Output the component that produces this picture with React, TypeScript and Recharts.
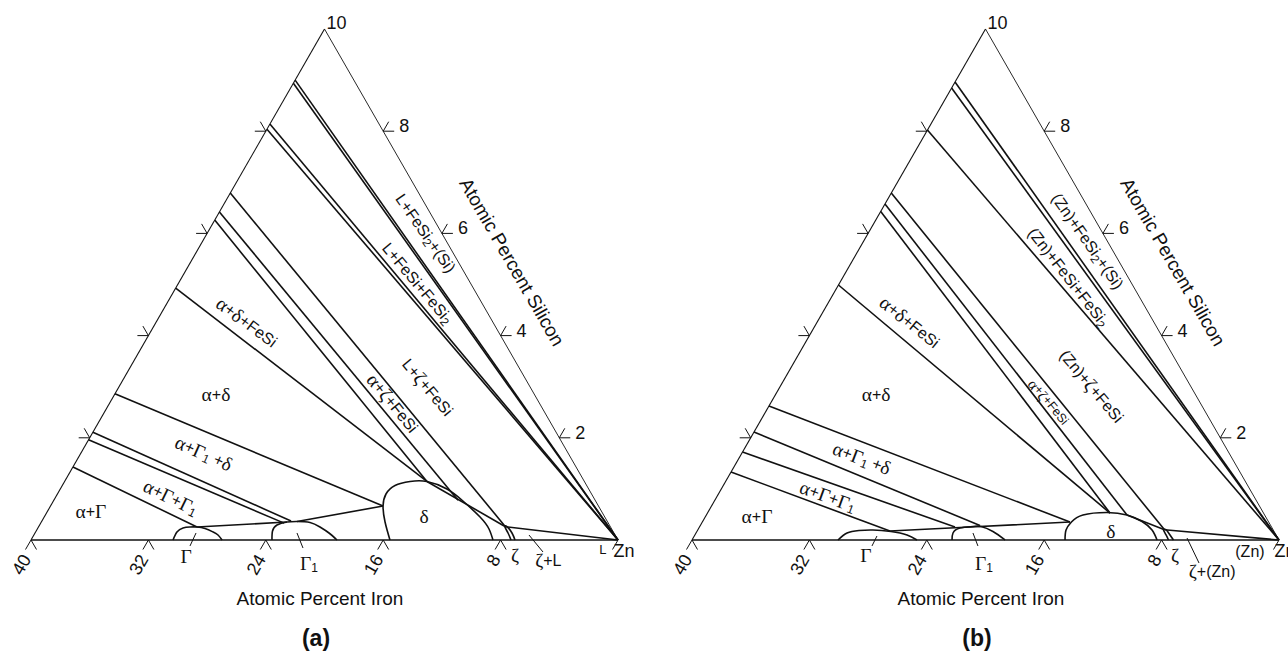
import { ComposedChart, Line, Scatter, XAxis, YAxis } from 'recharts'

type Pt = [number, number] // [at.% Fe, at.% Si]

interface PhaseLabel {
  text: string
  at: Pt
  rot?: number
  size?: number
}

const FE_MAX = 40
const SI_MAX = 10
const feTicks = [40, 32, 24, 16, 8]
const siTicks = [2, 4, 6, 8]

// ---------- (a) ----------
const aTieLines: Pt[][] = [
  [[4.0, 9.0], [0, 0]],
  [[4.24, 8.94], [0, 0]],
  [[7.44, 8.14], [0, 0]],
  [[7.84, 8.04], [0, 0]],
  [[12.84, 6.79], [7.15, 0.26]],
  [[14.32, 6.42], [9.34, 0.78]],
  [[14.96, 6.26], [10.73, 1.145]],
  [[20.28, 4.93], [10.73, 1.145]],
  [[28.56, 2.86], [14.68, 0.665]],
  [[31.56, 2.11], [21.54, 0.37]],
  [[32.16, 1.96], [22.09, 0.33]],
  [[34.28, 1.43], [28.18, 0.254]],
  [[28.18, 0.254], [21.85, 0.352]],
  [[21.15, 0.362], [14.68, 0.665]],
  [[10.73, 1.145], [7.15, 0.26]],
  [[7.15, 0.26], [0, 0]],
]
const aGamma: Pt[] = [[30.32, 0], [29.74, 0.157], [29.17, 0.235], [28.66, 0.254], [28.18, 0.254], [27.69, 0.225], [27.28, 0.157], [27.06, 0.098], [26.98, 0]]
const aGamma1: Pt[] = [[23.58, 0], [23.19, 0.176], [22.65, 0.294], [21.85, 0.352], [21.15, 0.362], [20.3, 0.342], [19.8, 0.254], [19.42, 0.137], [19.15, 0]]
const aDelta: Pt[] = [[15.54, 0], [15.17, 0.352], [14.68, 0.665], [14.01, 0.9], [13.06, 1.067], [11.88, 1.145], [10.73, 1.145], [9.66, 0.998], [9.04, 0.763], [8.5, 0.45], [8.36, 0.215], [8.52, 0]]
const aZeta: Pt[] = [[7.29, 0], [7.22, 0.137], [7.19, 0.254], [7.04, 0.264], [6.95, 0.137], [7.02, 0]]
const aLeaders: Pt[][] = [
  [[28.48, 0.137], [29.4, -0.117]],
  [[21.6, 0.137], [21.78, -0.157]],
  [[5.87, 0.098], [5.58, -0.235]],
]
const aLabels: PhaseLabel[] = [
  { text: 'α+Γ', at: [34.78, 0.568] },
  { text: 'α+Γ+Γ_1', at: [28.78, 0.841], rot: 26 },
  { text: 'α+Γ_1 +δ', at: [24.81, 1.703], rot: 24 },
  { text: 'α+δ', at: [21.68, 2.857] },
  { text: 'α+δ+FeSi', at: [16.75, 4.266], rot: 37 },
  { text: 'α+ζ+FeSi', at: [9.97, 2.681], rot: 51 },
  { text: 'L+ζ+FeSi', at: [6.96, 2.994], rot: 50 },
  { text: 'L+FeSi+FeSi_2', at: [3.57, 5.029], rot: 50 },
  { text: 'L+FeSi_2+(Si)', at: [1.07, 6.008], rot: 55 },
  { text: 'δ', at: [12.28, 0.47] },
  { text: 'Γ', at: [30.06, -0.313] },
  { text: 'Γ_1', at: [21.96, -0.45] },
  { text: 'ζ', at: [7.61, -0.294] },
  { text: 'ζ+L', at: [5.53, -0.391] },
  { text: 'L', at: [1.38, -0.176], size: 13 },
  { text: 'Zn', at: [0.02, -0.215], size: 18 },
]

// ---------- (b) ----------
const bTieLines: Pt[][] = [
  [[4.15, 8.963], [0, 0]],
  [[4.62, 8.845], [0, 0]],
  [[7.91, 8.023], [0, 0]],
  [[12.84, 6.79], [7.4, 0.2]],
  [[13.7, 6.575], [9.38, 0.489]],
  [[14.28, 6.43], [10.46, 0.528]],
  [[20.04, 4.99], [10.46, 0.528]],
  [[29.51, 2.622], [13.54, 0.352]],
  [[31.55, 2.114], [19.81, 0.284]],
  [[33.11, 1.722], [21.57, 0.254]],
  [[34.68, 1.331], [26.16, 0.176]],
  [[26.16, 0.176], [21.25, 0.245], [13.54, 0.352]],
  [[9.38, 0.489], [7.4, 0.2]],
  [[7.4, 0.2], [0, 0]],
]
const bGamma: Pt[] = [[30.05, 0], [29.16, 0.137], [28.25, 0.186], [27.28, 0.196], [26.11, 0.166], [25.15, 0.098], [24.67, 0]]
const bGamma1: Pt[] = [[22.28, 0], [21.94, 0.137], [21.27, 0.235], [20.32, 0.264], [19.78, 0.264], [19.16, 0.166], [18.67, 0]]
const bDelta: Pt[] = [[14.58, 0], [14.12, 0.196], [13.44, 0.352], [12.38, 0.489], [10.64, 0.538], [9.38, 0.489], [8.61, 0.362], [8.26, 0.196], [8.31, 0]]
const bZeta: Pt[] = [[7.53, 0], [7.5, 0.098], [7.48, 0.196], [7.4, 0.21], [7.28, 0.196], [7.23, 0.098], [7.19, 0]]
const bLeaders: Pt[][] = [
  [[27.24, 0.078], [27.97, -0.117]],
  [[20.58, 0.137], [20.75, -0.117]],
  [[6.19, 0.039], [6.35, -0.45]],
]
const bLabels: PhaseLabel[] = [
  { text: 'α+Γ', at: [34.63, 0.47] },
  { text: 'α+Γ+Γ_1', at: [29.01, 0.861], rot: 20 },
  { text: 'α+Γ_1 +δ', at: [25.21, 1.605], rot: 21 },
  { text: 'α+δ', at: [21.74, 2.857] },
  { text: 'α+δ+FeSi', at: [16.61, 4.266], rot: 39 },
  { text: 'α+ζ+FeSi', at: [10.29, 2.7], rot: 51, size: 12.5 },
  { text: '(Zn)+ζ+FeSi', at: [6.72, 3.014], rot: 50 },
  { text: '(Zn)+FeSi+FeSi_2', at: [4.02, 5.147], rot: 52 },
  { text: '(Zn)+FeSi_2+(Si)', at: [1.31, 5.851], rot: 55 },
  { text: 'δ', at: [11.1, 0.176] },
  { text: 'Γ', at: [28.73, -0.294] },
  { text: 'Γ_1', at: [21.0, -0.45] },
  { text: 'ζ', at: [7.68, -0.294] },
  { text: 'ζ+(Zn)', at: [5.77, -0.607] },
  { text: '(Zn)', at: [2.41, -0.215] },
  { text: 'Zn', at: [0.02, -0.215], size: 18 },
]

// ---------- layout ----------
const HEIGHT = 654
const TRI = { left: 31, right: 618, top: 29, base: 540 } // triangle corners inside a panel, px
const INK = '#111'
const SANS = '"Liberation Sans", Arial, sans-serif'
const SERIF = '"Liberation Serif", "Times New Roman", serif'

// partial Zn-Fe-Si triangle: Zn at right corner, 40 Fe at left, 10 Si at top
const proj = ([fe, si]: Pt) => ({ x: 1 - fe / FE_MAX - si / (2 * SI_MAX), y: si / SI_MAX })

const outline: Pt[][] = [
  [[FE_MAX, 0], [0, 0]],
  [[FE_MAX, 0], [0, SI_MAX]],
  [[0, SI_MAX], [0, 0]],
]

const tickData = [
  ...feTicks.map((fe) => ({ ...proj([fe, 0]), kind: 'base', text: String(fe) })),
  { ...proj([0, 0]), kind: 'zn', text: '' },
  ...siTicks.map((si) => ({ ...proj([0, si]), kind: 'right', text: String(si) })),
  ...siTicks.map((si) => ({ ...proj([FE_MAX * (1 - si / SI_MAX), si]), kind: 'left', text: '' })),
  { ...proj([0, SI_MAX]), kind: 'apex', text: '10' },
]

function rich(text: string, size: number) {
  const parts = []
  let shift = 0
  for (let i = 0; i < text.length; i++) {
    const c = text[i]
    if (c === '_') {
      const d = size * 0.3
      parts.push(
        <tspan key={i} fontFamily={SANS} fontSize={size * 0.75} dy={d}>
          {text[i + 1]}
        </tspan>
      )
      shift = -d
      i++
      continue
    }
    const greek = 'αδζΓ'.includes(c)
    parts.push(
      <tspan key={i} dy={shift || undefined} fontFamily={greek ? SERIF : SANS} fontSize={greek ? size * 1.22 : size}>
        {c}
      </tspan>
    )
    shift = 0
  }
  return parts
}

const PhaseText = (p: any) => {
  const { cx, cy, payload } = p
  const size = payload.size ?? 16
  return (
    <text
      x={cx}
      y={cy}
      textAnchor="middle"
      dominantBaseline="central"
      fill={INK}
      style={{ whiteSpace: 'pre' }}
      transform={payload.rot ? `rotate(${payload.rot} ${cx} ${cy})` : undefined}
    >
      {rich(payload.text, size)}
    </text>
  )
}

const TickMark = (p: any) => {
  const { cx, cy, payload } = p
  const line = { stroke: INK, strokeWidth: 1, fill: 'none' }
  const font = { fontFamily: SANS, fontSize: 18, fill: INK }
  if (payload.kind === 'base') {
    const lx = cx - 4.5
    const ly = cy + 16
    return (
      <g>
        <path d={`M${cx - 5.5},${cy + 9.5}L${cx},${cy}L${cx + 5.5},${cy + 9.5}`} {...line} />
        <text x={lx} y={ly} textAnchor="end" dominantBaseline="central" transform={`rotate(-60 ${lx} ${ly})`} {...font}>
          {payload.text}
        </text>
      </g>
    )
  }
  if (payload.kind === 'zn') return <path d={`M${cx},${cy}L${cx - 5.5},${cy + 9.5}`} {...line} />
  if (payload.kind === 'right') {
    return (
      <g>
        <path d={`M${cx + 11},${cy}L${cx},${cy}L${cx + 5.5},${cy - 9.5}`} {...line} />
        <text x={cx + 16} y={cy - 5} dominantBaseline="central" {...font}>
          {payload.text}
        </text>
      </g>
    )
  }
  if (payload.kind === 'left') return <path d={`M${cx - 11},${cy}L${cx},${cy}L${cx - 5.5},${cy - 9.5}`} {...line} />
  return (
    <text x={cx + 2} y={cy - 6} dominantBaseline="central" {...font}>
      {payload.text}
    </text>
  )
}

interface PanelProps {
  left: number
  width: number
  letter: string
  tieLines: Pt[][]
  domes: Pt[][]
  leaders: Pt[][]
  labels: PhaseLabel[]
}

function Panel({ left, width, letter, tieLines, domes, leaders, labels }: PanelProps) {
  const ux = TRI.right - TRI.left
  const uy = TRI.base - TRI.top
  const xDomain = [-TRI.left / ux, (width - TRI.left) / ux]
  const yDomain = [-(HEIGHT - TRI.base) / uy, TRI.base / uy]
  const labelData = labels.map((l) => ({ ...proj(l.at), ...l }))
  const seg = (pts: Pt[], key: string, w: number, type: 'linear' | 'natural' = 'linear') => (
    <Line
      key={key}
      data={pts.map(proj)}
      dataKey="y"
      type={type}
      stroke={INK}
      strokeWidth={w}
      dot={false}
      activeDot={false}
      isAnimationActive={false}
    />
  )
  const text = { position: 'absolute' as const, transform: 'translate(-50%, -50%)', whiteSpace: 'nowrap' as const, fontFamily: SANS, color: INK, lineHeight: 1 }
  return (
    <div style={{ position: 'absolute', left, top: 0, width, height: HEIGHT, overflow: 'hidden' }}>
      <ComposedChart width={width} height={HEIGHT} margin={{ top: 0, right: 0, bottom: 0, left: 0 }}>
        <XAxis type="number" dataKey="x" domain={xDomain} hide />
        <YAxis type="number" dataKey="y" domain={yDomain} hide />
        {seg(outline[0], 'base', 1.6)}
        {seg(outline[1], 'leftEdge', 1.1)}
        {seg(outline[2], 'rightEdge', 0.9)}
        {tieLines.map((l, i) => seg(l, `t${i}`, 1.6))}
        {domes.map((d, i) => seg(d, `d${i}`, 1.6, 'natural'))}
        {leaders.map((l, i) => seg(l, `l${i}`, 1))}
        <Scatter data={tickData} shape={TickMark} isAnimationActive={false} />
        <Scatter data={labelData} shape={PhaseText} isAnimationActive={false} />
      </ComposedChart>
      <div style={{ ...text, left: 320, top: 598, fontSize: 19 }}>Atomic Percent Iron</div>
      <div style={{ ...text, left: 512, top: 262, fontSize: 19, transform: 'translate(-50%, -50%) rotate(60deg)' }}>
        Atomic Percent Silicon
      </div>
      <div style={{ ...text, left: 316, top: 638, fontSize: 23, fontWeight: 700 }}>{letter}</div>
    </div>
  )
}

export default function App() {
  return (
    <div style={{ position: 'absolute', left: 0, top: 0, width: 1288, height: HEIGHT, background: '#fff', overflow: 'hidden' }}>
      <Panel
        left={0}
        width={661}
        letter="(a)"
        tieLines={aTieLines}
        domes={[aGamma, aGamma1, aDelta, aZeta]}
        leaders={aLeaders}
        labels={aLabels}
      />
      <Panel
        left={661}
        width={627}
        letter="(b)"
        tieLines={bTieLines}
        domes={[bGamma, bGamma1, bDelta, bZeta]}
        leaders={bLeaders}
        labels={bLabels}
      />
    </div>
  )
}
